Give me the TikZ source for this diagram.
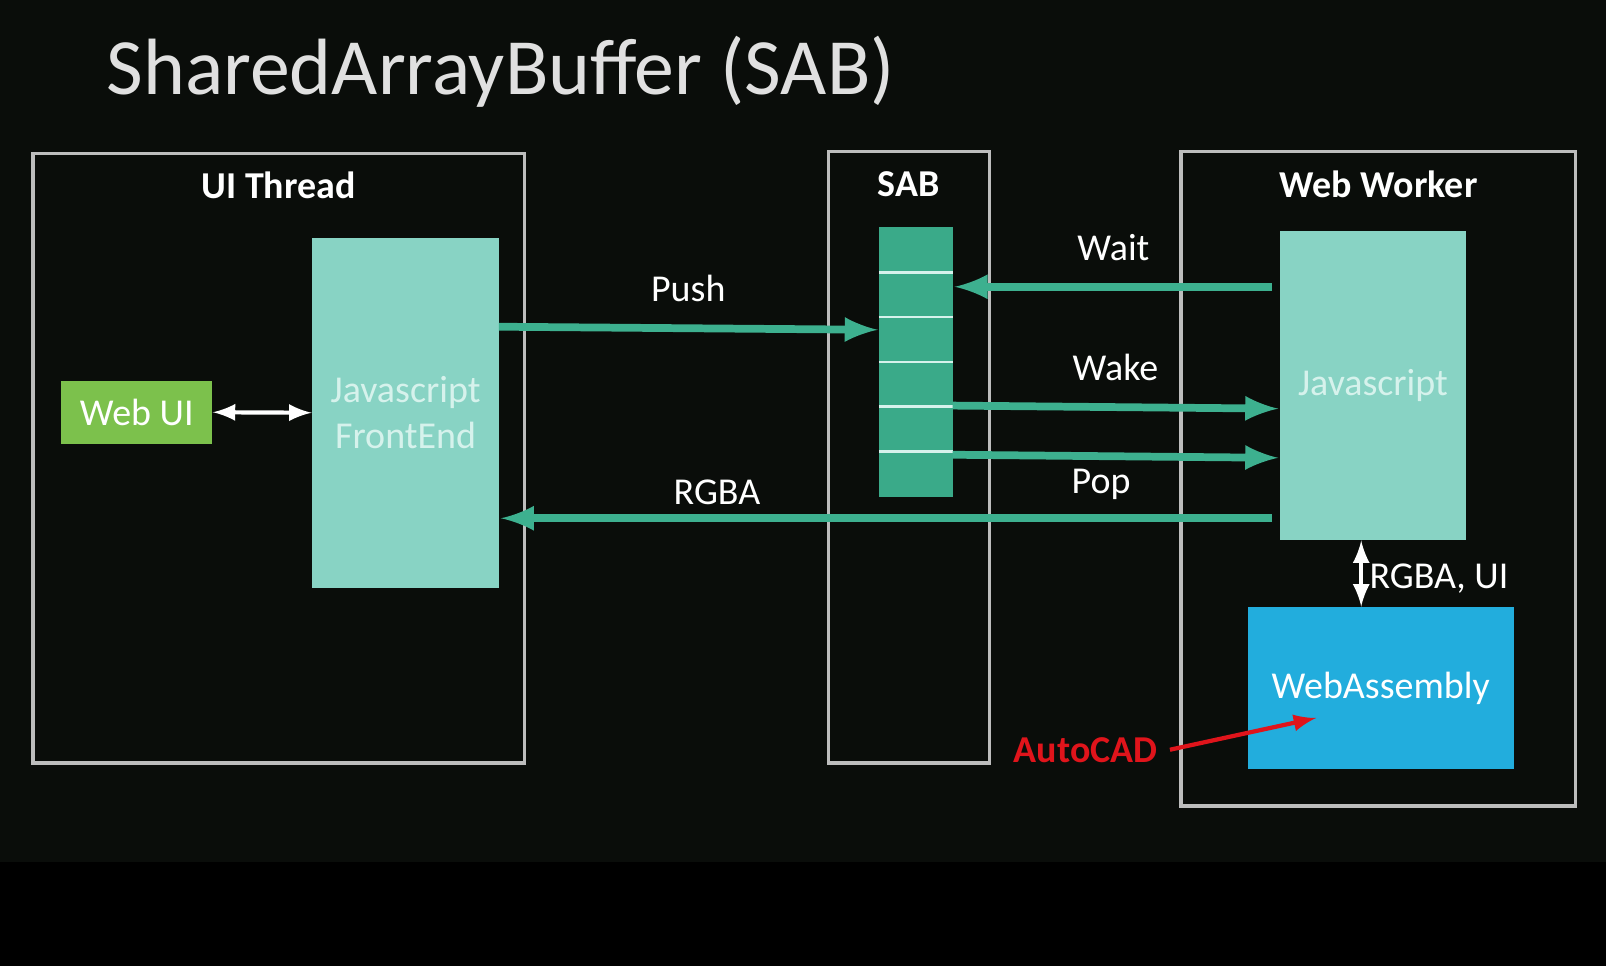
\documentclass[tikz,border=0pt]{standalone}
\usepackage{fontspec}
\setmainfont{Carlito}
\usetikzlibrary{positioning}
\definecolor{bgdark}{HTML}{0A0D0A}
\definecolor{framegray}{HTML}{BDBDBD}
\definecolor{paleteal}{HTML}{88D3C4}
\definecolor{palefont}{HTML}{D6F2EC}
\definecolor{cellteal}{HTML}{3AAA89}
\definecolor{arrowteal}{HTML}{3DB08F}
\definecolor{uigreen}{HTML}{7CC14C}
\definecolor{wasmblue}{HTML}{22ADDD}
\definecolor{cadred}{HTML}{E0141B}
\begin{document}
\begin{tikzpicture}[x=0.01024cm,y=-0.01024cm,
    frame/.style={draw=framegray,line width=1pt},
    head/.style={font=\fontsize{10.8}{12}\selectfont\bfseries,text=white},
    block/.style={fill=paleteal,text=palefont,font=\fontsize{10.8}{13}\selectfont,align=center},
    lbl/.style={font=\fontsize{10.8}{12}\selectfont,text=white},
    flow/.style={draw=arrowteal,line width=2.2pt,-latex},
    both/.style={draw=white,line width=1.2pt,latex-latex}]
    \fill[bgdark] (0,0) rectangle (1568,842);
    \fill[black] (0,842) rectangle (1568,943);
    \useasboundingbox (0,0) rectangle (1568,943);
    \node[anchor=base west,text=white!88!black,font=\fontsize{22.7}{26}\selectfont] (title) at (92,92) {SharedArrayBuffer (SAB)};
    % the three frames
    \draw[frame] (32,150) rectangle (512,745);
    \draw[frame] (809,148) rectangle (966,745);
    \draw[frame] (1153,148) rectangle (1538,787);
    \node[head] (uihead) at (272,181) {UI Thread};
    \node[head] (sabhead) at (887,180) {SAB};
    \node[head] (wwhead) at (1346,180) {Web Worker};
    % blocks
    \node[block,minimum width=1.864cm,minimum height=3.502cm] (front) at (396,403) {Javascript\\FrontEnd};
    \node[fill=uigreen,text=white,lbl,minimum width=1.505cm,minimum height=0.625cm] (webui) at (133.5,402.5) {Web UI};
    \node[block,minimum width=1.853cm,minimum height=3.082cm] (wjs) at (1340.5,376.5) {Javascript};
    \node[fill=wasmblue,text=palefont,lbl,minimum width=2.662cm,minimum height=1.618cm] (wasm) at (1348,672) {WebAssembly};
    % buffer cells
    \node[fill=cellteal,minimum width=0.737cm,minimum height=2.693cm,inner sep=0pt] (stack) at (894,353.5) {};
    \foreach \i in {1,...,5}
    \draw[palefont,line width=0.8pt] (858,222+\i*43.8) -- +(72,0);
    % arrows
    \coordinate (pushA) at (487,319);
    \coordinate (pushB) at (857,322);
    \draw[flow] (pushA) -- node[lbl,above=3pt] (push) {Push} (pushB);
    \coordinate (waitA) at (1242,280);
    \coordinate (waitB) at (932,280);
    \draw[flow] (waitA) -- node[lbl,above=3pt] (wait) {Wait} (waitB);
    \coordinate (wakeA) at (930,396);
    \coordinate (wakeB) at (1248,399);
    \draw[flow] (wakeA) -- node[lbl,above=3pt] (wake) {Wake} (wakeB);
    \coordinate (popA) at (930,444);
    \coordinate (popB) at (1248,447);
    \draw[flow] (popA) -- (popB);
    \node[lbl] (pop) at (1075,473) {Pop};
    \coordinate (rgbaA) at (1242,506);
    \coordinate (rgbaB) at (489,506);
    \draw[flow] (rgbaA) -- (rgbaB);
    \node[lbl] (rgba) at (700,481) {RGBA};
    \draw[both] (webui.east) -- (front.west);
    \draw[both] (wjs.south -| 1329,0) -- (wasm.north -| 1329,0);
    \node[lbl,anchor=west,inner sep=1pt] (rgbaui) at (1333,565) {RGBA, UI};
    % annotation
    \node[text=cadred,font=\fontsize{10.8}{12}\selectfont\bfseries] (cad) at (1060,732) {AutoCAD};
    \coordinate (cadtip) at (1285,701);
    \draw[cadred,line width=1.2pt,-latex] (cad.east) -- (cadtip);
\end{tikzpicture}
\end{document}
